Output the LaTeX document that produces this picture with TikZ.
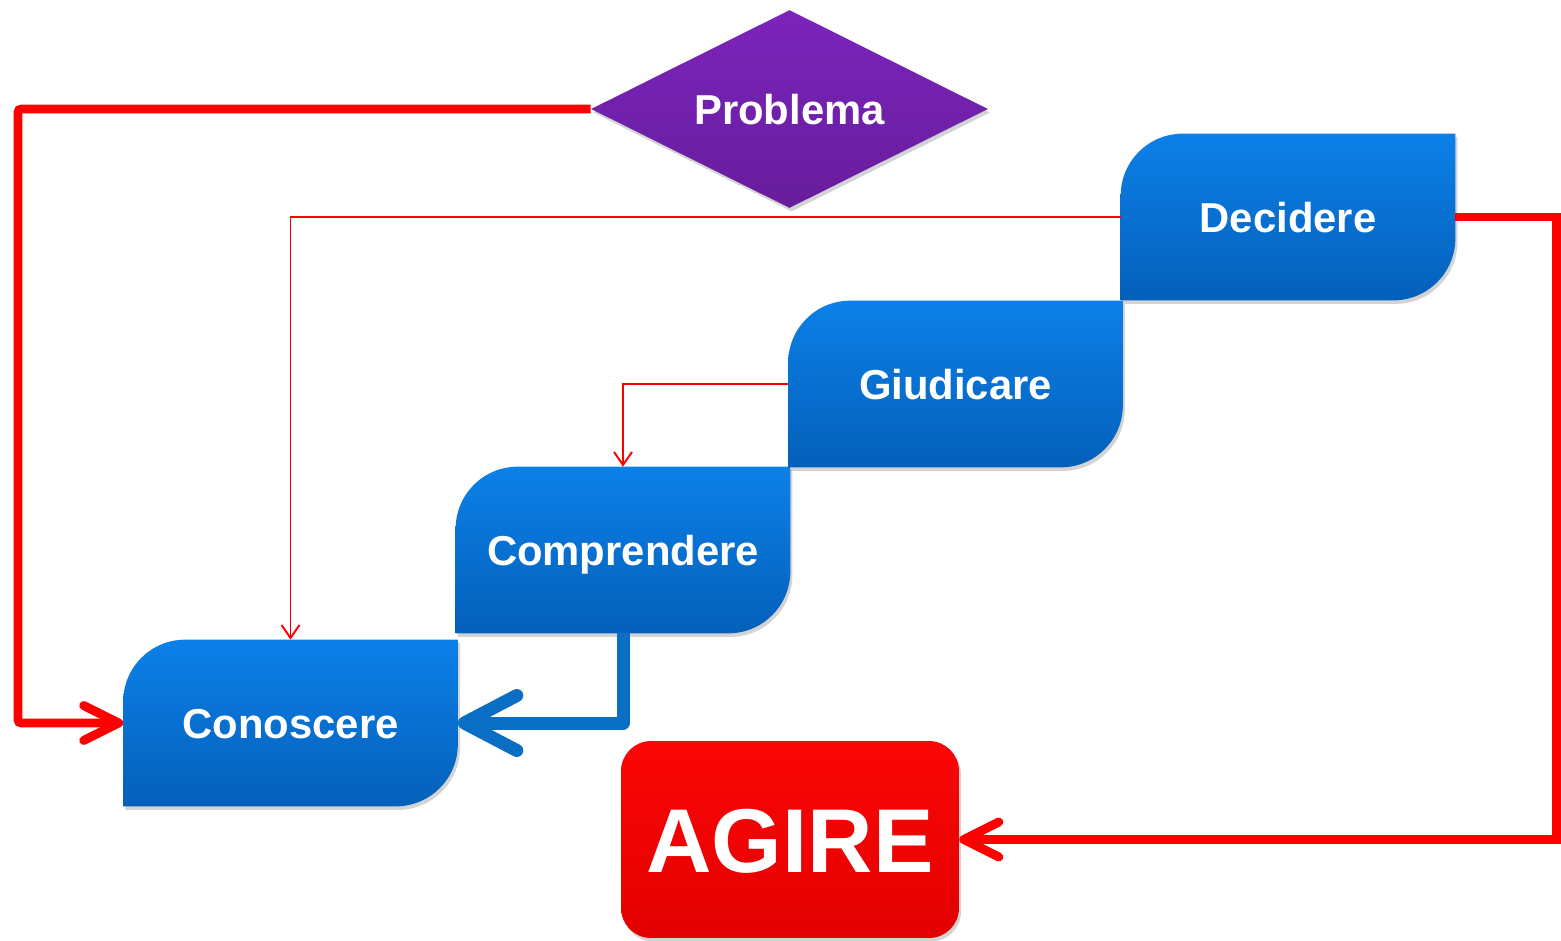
\documentclass[tikz,border=0pt]{standalone}
\usepackage{fontspec}
\setmainfont{Liberation Sans}
\usetikzlibrary{arrows.meta,shapes.geometric,shadows,backgrounds}

\definecolor{stepTop}{RGB}{12,128,232}
\definecolor{stepBot}{RGB}{4,96,186}
\definecolor{probTop}{RGB}{124,36,188}
\definecolor{probBot}{RGB}{102,29,156}
\definecolor{agTop}{RGB}{252,6,6}
\definecolor{agBot}{RGB}{226,0,0}
\definecolor{linkRed}{RGB}{255,0,0}
\definecolor{linkBlue}{RGB}{10,110,196}

\tikzset{
  softshadow/.style={drop shadow={shadow xshift=1.2pt, shadow yshift=-2pt, opacity=0.35}},
  labelfont/.style={text=white, font=\bfseries\fontsize{23.8}{28}\selectfont,
    text height=17.1pt, text depth=0pt},
  stepbox/.style={rectangle, inner sep=0pt, minimum width=6.68cm,
    minimum height=3.32cm, labelfont},
  leaf/.style={top color=stepTop, bottom color=stepBot, softshadow},
  problembox/.style={diamond, shape aspect=2, inner sep=0pt,
    minimum width=7.94cm, minimum height=3.96cm, top color=probTop,
    bottom color=probBot, softshadow, labelfont},
  actbox/.style={rectangle, rounded corners=0.6cm, inner sep=0pt,
    minimum width=6.76cm, minimum height=3.94cm, top color=agTop,
    bottom color=agBot, softshadow, text=white,
    font=\bfseries\fontsize{51.6}{60}\selectfont, text height=37.2pt,
    text depth=0pt},
  thicklink/.style={draw=linkRed, line width=5.1pt,
    -{Straight Barb[length=0.7cm, width=0.7cm, round, line width=5.1pt]}},
  thinlink/.style={draw=linkRed, line width=1.1pt,
    -{Straight Barb[length=0.26cm, width=0.36cm]}},
  backlink/.style={draw=linkBlue, line width=7.4pt, line join=round,
    -{Straight Barb[length=1.05cm, width=1.1cm, round, line width=7.4pt]}},
}

% box with a rounded top-left and bottom-right corner, drawn under node #1
\newcommand\leafshape[1]{%
  \path[leaf] (#1.south west) -- ([yshift=-1.24cm]#1.north west)
    .. controls ([yshift=-0.555cm]#1.north west) and ([xshift=0.555cm]#1.north west)
    .. ([xshift=1.24cm]#1.north west)
    -- (#1.north east) -- ([yshift=1.24cm]#1.south east)
    .. controls ([yshift=0.555cm]#1.south east) and ([xshift=-0.555cm]#1.south east)
    .. ([xshift=-1.24cm]#1.south east) -- cycle;}

\begin{document}
\begin{tikzpicture}[x=0.02cm, y=-0.02cm]
  \useasboundingbox (0,0) rectangle (1561,940);

  % the four steps
  \node[stepbox] (con)  at (290.5,723) {Conoscere};
  \node[stepbox] (comp) at (623,550)   {Comprendere};
  \node[stepbox] (giu)  at (955.5,384) {Giudicare};
  \node[stepbox] (dec)  at (1288,217)  {Decidere};

  \begin{scope}[on background layer]
    \leafshape{con}
    \leafshape{comp}
    \leafshape{giu}
    \leafshape{dec}
  \end{scope}

  % start and end
  \node[problembox] (prob) at (789.5,109) {Problema};
  \node[actbox] (agire) at (790,839.5) {AGIRE};

  % corners of the outer loops
  \coordinate (lc) at (18,109);
  \coordinate (rc) at (1556,217);

  % connectors
  \draw[thicklink, rounded corners=2pt] (prob.west) -- (lc) |- (con.west);
  \draw[thicklink] (dec.east) -- (rc) |- (agire.east);
  \draw[thinlink] (dec.west) -| (con.north);
  \draw[thinlink] (giu.west) -| (comp.north);
  \draw[backlink] (comp.south) |- (con.east);
\end{tikzpicture}
\end{document}
